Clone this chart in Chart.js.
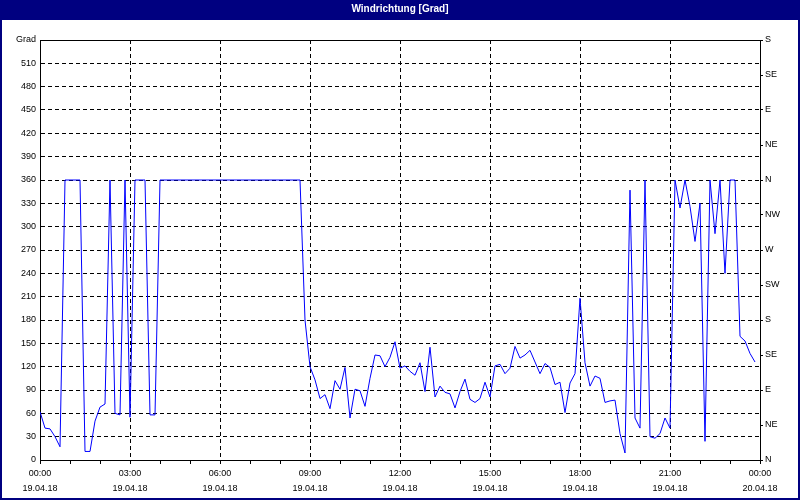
<!DOCTYPE html>
<html>
<head>
<meta charset="utf-8">
<title>Windrichtung [Grad]</title>
<script src="https://cdn.jsdelivr.net/npm/chart.js@4.4.1/dist/chart.umd.min.js"></script>
<style>
  html, body { margin: 0; padding: 0; background: #fff; }
  #wrap { width: 800px; height: 500px; }
</style>
</head>
<body>
<div id="wrap"><canvas id="chart" width="800" height="500"></canvas></div>
<script>
const chartTitle = "Windrichtung [Grad]";

// one reading every 10 minutes, starting 19.04.18 00:00
const sampleMinutes = 10;
const windDir = [
  62, 41, 40, 30, 17, 360, 360, 360, 360, 11,
  11, 50, 68, 72, 360, 60, 58, 360, 55, 360,
  360, 360, 58, 58, 360, 360, 360, 360, 360, 360,
  360, 360, 360, 360, 360, 360, 360, 360, 360, 360,
  360, 360, 360, 360, 360, 360, 360, 360, 360, 360,
  360, 360, 360, 180, 120, 103, 79, 84, 66, 102,
  91, 119, 54, 91, 89, 69, 105, 135, 134, 120,
  132, 152, 118, 121, 114, 109, 125, 88, 145, 81,
  95, 87, 85, 67, 88, 104, 78, 74, 79, 100,
  81, 121, 123, 111, 118, 146, 131, 135, 141, 126,
  111, 124, 119, 97, 100, 61, 99, 111, 208, 125,
  95, 108, 105, 74, 76, 77, 34, 9, 347, 54,
  41, 360, 30, 28, 34, 54, 41, 360, 324, 360,
  326, 281, 330, 24, 360, 291, 360, 240, 360, 360,
  159, 153, 137, 126
];

const hourLabels = ["00:00", "03:00", "06:00", "09:00", "12:00", "15:00", "18:00", "21:00", "00:00"];
const dateLabels = ["19.04.18", "19.04.18", "19.04.18", "19.04.18", "19.04.18", "19.04.18", "19.04.18", "19.04.18", "20.04.18"];
const compassLabels = ["N", "NE", "E", "SE", "S", "SW", "W", "NW", "N", "NE", "E", "SE", "S"];

const points = windDir.map((v, i) => ({ x: i * sampleMinutes / 60, y: v }));

const tickFont = { family: "'Liberation Sans', Arial, sans-serif", size: 9, lineHeight: "15px" };
const dashed = [4, 3];

// window look: navy title bar and frame
const frame = {
  id: "frame",
  beforeDraw(chart) {
    const ctx = chart.ctx;
    ctx.save();
    ctx.fillStyle = "#ffffff";
    ctx.fillRect(0, 0, chart.width, chart.height);
    ctx.fillStyle = "#000080";
    ctx.fillRect(0, 0, chart.width, 20);
    ctx.restore();
  },
  afterDraw(chart) {
    const ctx = chart.ctx;
    ctx.save();
    ctx.fillStyle = "#000080";
    ctx.fillRect(0, 0, 2, chart.height);
    ctx.fillRect(chart.width - 2, 0, 2, chart.height);
    ctx.fillRect(0, chart.height - 2, chart.width, 2);
    ctx.restore();
  }
};

new Chart(document.getElementById("chart"), {
  type: "line",
  data: {
    datasets: [{
      data: points,
      borderColor: "#0000ff",
      borderWidth: 1,
      pointRadius: 0,
      tension: 0,
      yAxisID: "y"
    }]
  },
  options: {
    responsive: false,
    animation: false,
    devicePixelRatio: 1,
    layout: { padding: 0 },
    plugins: {
      legend: { display: false },
      tooltip: { enabled: false },
      title: {
        display: true,
        text: chartTitle,
        color: "#ffffff",
        font: { family: "'Liberation Sans', Arial, sans-serif", size: 10, weight: "bold", lineHeight: "13px" },
        padding: { top: 3, bottom: 24 }
      }
    },
    scales: {
      x: {
        type: "linear",
        min: 0,
        max: 24,
        afterFit: s => { s.height = 40; },
        ticks: {
          stepSize: 1,
          maxTicksLimit: 100,
          autoSkip: false,
          maxRotation: 0,
          padding: 2,
          color: "#000",
          font: tickFont,
          callback: v => v % 3 === 0 ? [hourLabels[v / 3], dateLabels[v / 3]] : ""
        },
        grid: {
          color: c => (c.tick && c.tick.value % 3 === 0) ? "#000" : "rgba(0,0,0,0)",
          tickColor: "#000",
          tickLength: 4
        },
        border: {
          color: "#000",
          dash: c => (c.tick && (c.tick.value === 0 || c.tick.value === 24)) ? [] : dashed
        }
      },
      y: {
        position: "left",
        min: 0,
        max: 540,
        afterFit: s => { s.width = 40; },
        ticks: {
          stepSize: 30,
          maxTicksLimit: 100,
          padding: 4,
          color: "#000",
          font: tickFont,
          callback: v => v === 540 ? "Grad" : v
        },
        grid: { color: "#000", drawTicks: false },
        border: {
          color: "#000",
          dash: c => (c.tick && (c.tick.value === 0 || c.tick.value === 540)) ? [] : dashed
        }
      },
      y2: {
        position: "right",
        min: 0,
        max: 540,
        afterFit: s => { s.width = 40; },
        ticks: {
          stepSize: 45,
          maxTicksLimit: 100,
          padding: 2,
          color: "#000",
          font: tickFont,
          callback: v => compassLabels[v / 45]
        },
        grid: { drawOnChartArea: false, tickColor: "#000", tickLength: 3 },
        border: { color: "#000" }
      }
    }
  },
  plugins: [frame]
});
</script>
</body>
</html>
